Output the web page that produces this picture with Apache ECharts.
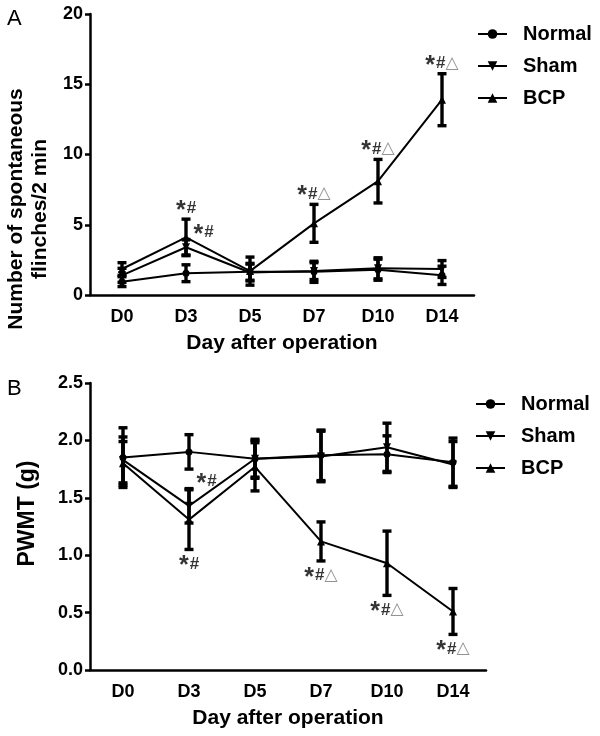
<!DOCTYPE html>
<html>
<head>
<meta charset="utf-8">
<script src="https://cdn.jsdelivr.net/npm/echarts@6/dist/echarts.min.js"></script>
<style>html,body{margin:0;padding:0;background:#fff}#c{width:600px;height:736px}</style>
</head>
<body>
<div id="c"></div>
<script>
// ---------- data ----------
const days = ['D0', 'D3', 'D5', 'D7', 'D10', 'D14'];
const seriesNames = ['Normal', 'Sham', 'BCP'];

// Panel A: number of spontaneous flinches / 2 min
const flinchNormal    = [0.95, 1.55, 1.65, 1.65, 1.8, 1.4];
const flinchNormalErr = [0.35, 0.6, 0.6, 0.75, 0.75, 0.65];
const flinchSham      = [1.4, 3.4, 1.6, 1.7, 1.9, 1.85];
const flinchShamErr   = [0.5, 0.55, 0.6, 0.6, 0.75, 0.6];
const flinchBCP       = [1.85, 4.1, 1.7, 5.1, 8.1, 13.9];
const flinchBCPErr    = [0.45, 1.3, 1.0, 1.35, 1.55, 1.85];

// Panel B: PWMT (g)
const pwmtNormal    = [1.85, 1.9, 1.84, 1.87, 1.88, 1.81];
const pwmtNormalErr = [0.26, 0.15, 0.16, 0.22, 0.16, 0.21];
const pwmtSham      = [1.83, 1.43, 1.84, 1.86, 1.94, 1.79];
const pwmtShamErr   = [0.2, 0.15, 0.17, 0.22, 0.21, 0.2];
const pwmtBCP       = [1.80, 1.31, 1.77, 1.12, 0.93, 0.51];
const pwmtBCPErr    = [0.19, 0.26, 0.21, 0.17, 0.28, 0.2];

// significance marks
const flinchShamMarks = ['', '*#', '', '', '', ''];
const flinchBCPMarks  = ['', '*#', '', '*#△', '*#△', '*#△'];
const pwmtShamMarks   = ['', '*#', '', '', '', ''];
const pwmtBCPMarks    = ['', '*#', '', '*#△', '*#△', '*#△'];

const yTicksA = [0, 20, 5];
const yTicksB = [0, 2.5, 0.5];

// ---------- chart ----------
const FONT = '"Liberation Sans", Arial, Helvetica, sans-serif';
const chart = echarts.init(document.getElementById('c'), null, {renderer: 'canvas'});

function errRender(params, api) {
  const i = api.value(0), v = api.value(1), e = api.value(2);
  const p0 = api.coord([i, v + e]);
  const p1 = api.coord([i, v - e]);
  const w = 4.5;
  const st = {stroke: '#000', lineWidth: 3.4};
  return {
    type: 'group',
    children: [
      {type: 'line', shape: {x1: p0[0], y1: p0[1], x2: p1[0], y2: p1[1]}, style: st},
      {type: 'line', shape: {x1: p0[0] - w, y1: p0[1], x2: p0[0] + w, y2: p0[1]}, style: st},
      {type: 'line', shape: {x1: p1[0] - w, y1: p1[1], x2: p1[0] + w, y2: p1[1]}, style: st}
    ]
  };
}

function errSeries(g, name, vals, errs) {
  return {
    type: 'custom', name: 'err-' + name + g, xAxisIndex: g, yAxisIndex: g,
    data: vals.map((v, i) => [i, v, errs[i]]),
    renderItem: errRender, silent: true, z: 1, clip: false
  };
}

const symbols = {
  Normal: {symbol: 'circle', symbolSize: 7, symbolRotate: 0},
  Sham: {symbol: 'triangle', symbolSize: 8, symbolRotate: 180},
  BCP: {symbol: 'triangle', symbolSize: 8, symbolRotate: 0}
};

function lineSeries(g, name, vals) {
  return Object.assign({
    type: 'line', name: name, xAxisIndex: g, yAxisIndex: g,
    data: vals, lineStyle: {color: '#000', width: 2},
    itemStyle: {color: '#000'}, z: 3, animation: false
  }, symbols[name]);
}

function markText(t) {
  return t.replace('*', '{s|*}').replace('#', '{h|#}').replace('△', '{t|△}');
}
const rich = {
  s: {fontSize: 25, fontWeight: 'bold', color: '#000', fontFamily: FONT, padding: [5, 1, 0, 0]},
  h: {fontSize: 17, fontWeight: 'bold', color: '#000', fontFamily: FONT},
  t: {fontSize: 17, color: '#777', fontFamily: '"DejaVu Sans", sans-serif'}
};

// where: 'top' | 'bottom' | 'right'
function markSeries(g, vals, errs, marks, where) {
  const data = [];
  const dist = {top: -5, bottom: -1, right: 7};
  marks.forEach((m, i) => {
    if (!m) return;
    const y = where === 'bottom' ? vals[i] - errs[i] : vals[i] + errs[i];
    const label = {show: true, formatter: markText(m), rich: rich, position: where, distance: dist[where]};
    if (where === 'right') label.offset = [0, -7];
    data.push({value: [i, y], label: label});
  });
  return {
    type: 'scatter', xAxisIndex: g, yAxisIndex: g, data: data, symbol: 'circle', symbolSize: 1,
    itemStyle: {color: 'rgba(0,0,0,0)'}, silent: true, z: 5, animation: false
  };
}

const grids = [
  {left: 90, top: 14, width: 384, height: 281, outerBoundsMode: 'none', containLabel: false},
  {left: 90, top: 383, width: 396, height: 287, outerBoundsMode: 'none', containLabel: false}
];

function xAxis(g) {
  return {
    type: 'category', gridIndex: g, data: days, boundaryGap: true,
    name: 'Day after operation', nameLocation: 'middle', nameGap: 38,
    nameTextStyle: {fontFamily: FONT, fontWeight: 'bold', fontSize: 21, color: '#000'},
    axisLine: {lineStyle: {color: '#000', width: 2.5}},
    axisTick: {alignWithLabel: true, length: 6, lineStyle: {color: '#000', width: 2.5}},
    axisLabel: {fontFamily: FONT, fontWeight: 'bold', fontSize: 18, color: '#000', margin: 13},
    splitLine: {show: false}
  };
}

function yAxis(g, ticks, name, nameGap, fs, lh, pad, dec) {
  return {
    type: 'value', gridIndex: g, min: ticks[0], max: ticks[1], interval: ticks[2],
    name: name, nameLocation: 'middle', nameGap: nameGap, nameRotate: 90,
    nameTextStyle: {fontFamily: FONT, fontWeight: 'bold', fontSize: fs, color: '#000', lineHeight: lh, padding: pad},
    axisLine: {show: true, lineStyle: {color: '#000', width: 2.5}},
    axisTick: {show: true, length: 5, lineStyle: {color: '#000', width: 2.5}},
    axisLabel: {fontFamily: FONT, fontWeight: 'bold', fontSize: 18, color: '#000', margin: 7,
                formatter: v => v.toFixed(dec)},
    splitLine: {show: false}
  };
}

function legend(top, left) {
  return {
    data: seriesNames, orient: 'vertical', left: left, top: top,
    itemWidth: 29, itemHeight: 12, itemGap: 12,
    textStyle: {fontFamily: FONT, fontWeight: 'bold', fontSize: 20, color: '#000', lineHeight: 20, padding: [0, 0, 0, 11]},
    selectedMode: false
  };
}

const option = {
  backgroundColor: '#fff',
  animation: false,
  title: [
    {text: 'A', left: 2, top: 3, textStyle: {fontFamily: FONT, fontWeight: 'normal', fontSize: 22, color: '#000'}},
    {text: 'B', left: 2, top: 373, textStyle: {fontFamily: FONT, fontWeight: 'normal', fontSize: 22, color: '#000'}}
  ],
  legend: [legend(19, 472), legend(389, 470)],
  grid: grids,
  xAxis: [xAxis(0), xAxis(1)],
  yAxis: [
    yAxis(0, yTicksA, 'Number of spontaneous\nflinches/2 min', 34, 21, 24, [0, 109, 0, 0], 0),
    yAxis(1, yTicksB, 'PWMT (g)', 51, 23, 23, [0, 0, 0, 26], 1)
  ],
  series: [
    errSeries(0, 'Normal', flinchNormal, flinchNormalErr),
    errSeries(0, 'Sham', flinchSham, flinchShamErr),
    errSeries(0, 'BCP', flinchBCP, flinchBCPErr),
    lineSeries(0, 'Normal', flinchNormal),
    lineSeries(0, 'Sham', flinchSham),
    lineSeries(0, 'BCP', flinchBCP),
    markSeries(0, flinchSham, flinchShamErr, flinchShamMarks, 'right'),
    markSeries(0, flinchBCP, flinchBCPErr, flinchBCPMarks, 'top'),
    errSeries(1, 'Normal', pwmtNormal, pwmtNormalErr),
    errSeries(1, 'Sham', pwmtSham, pwmtShamErr),
    errSeries(1, 'BCP', pwmtBCP, pwmtBCPErr),
    lineSeries(1, 'Normal', pwmtNormal),
    lineSeries(1, 'Sham', pwmtSham),
    lineSeries(1, 'BCP', pwmtBCP),
    markSeries(1, pwmtSham, pwmtShamErr, pwmtShamMarks, 'right'),
    markSeries(1, pwmtBCP, pwmtBCPErr, pwmtBCPMarks, 'bottom')
  ]
};
chart.setOption(option);
</script>
</body>
</html>
